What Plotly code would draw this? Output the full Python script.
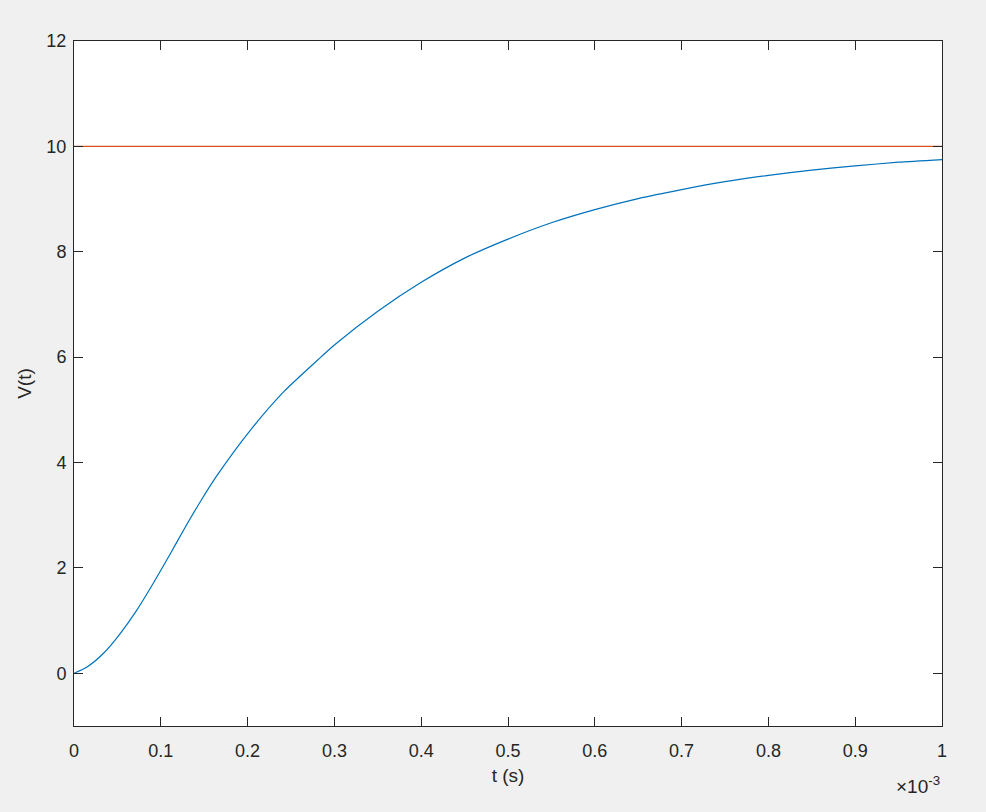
import plotly.graph_objects as go

# time in units of 1e-3 s (axis multiplier shown as x10^-3)
t_ms = [0, 0.015, 0.034, 0.053, 0.072, 0.091, 0.110, 0.127, 0.146, 0.165, 0.204,
        0.242, 0.281, 0.300, 0.350, 0.400, 0.450, 0.500, 0.550, 0.600, 0.650,
        0.700, 0.750, 0.800, 0.850, 0.900, 0.950, 1.000]
v_t = [0, 0.12, 0.38, 0.75, 1.19, 1.70, 2.24, 2.74, 3.27, 3.76, 4.63,
       5.35, 5.95, 6.23, 6.87, 7.42, 7.88, 8.24, 8.55, 8.80, 9.01,
       9.18, 9.33, 9.45, 9.55, 9.63, 9.70, 9.75]
t_ref = [0, 1.0]
v_ref = [10, 10]

x_ticks = [0, 0.1, 0.2, 0.3, 0.4, 0.5, 0.6, 0.7, 0.8, 0.9, 1]
x_ticktext = ["0", "0.1", "0.2", "0.3", "0.4", "0.5", "0.6", "0.7", "0.8", "0.9", "1"]
y_ticks = [0, 2, 4, 6, 8, 10, 12]

ax_col = "#262626"
font = "Liberation Sans, Arial, Helvetica, sans-serif"

fig = go.Figure()
fig.add_trace(go.Scatter(x=t_ms, y=v_t, mode="lines",
                         line=dict(color="#0072BD", width=1.2, shape="spline", smoothing=0.6),
                         showlegend=False))
fig.add_trace(go.Scatter(x=t_ref, y=v_ref, mode="lines", line=dict(color="#D95319", width=1.2),
                         showlegend=False))

axis_common = dict(showgrid=False, zeroline=False, showline=True, linecolor=ax_col, linewidth=1,
                   mirror="ticks", ticks="inside", ticklen=9, tickcolor=ax_col, tickwidth=1,
                   tickfont=dict(size=18, color=ax_col, family=font))

fig.update_xaxes(range=[0, 1], tickvals=x_ticks, ticktext=x_ticktext, ticklabelstandoff=8,
                 title=dict(text="t (s)", font=dict(size=19, color=ax_col, family=font), standoff=9),
                 **axis_common)
fig.update_yaxes(range=[-1, 12], tickvals=y_ticks, ticklabelstandoff=3,
                 title=dict(text="V(t)", font=dict(size=19, color=ax_col, family=font), standoff=9),
                 **axis_common)

fig.add_annotation(xref="paper", yref="paper", x=1.0, y=-0.086, xanchor="right", yanchor="middle",
                   text="×10<sup>-3</sup>", showarrow=False,
                   font=dict(size=19, color=ax_col, family=font))

fig.update_layout(width=986, height=812, margin=dict(l=74, r=44, t=41, b=86),
                  paper_bgcolor="#F0F0F0", plot_bgcolor="#FFFFFF",
                  font=dict(family=font, color=ax_col))

fig.write_html("out.html", config={"displayModeBar": False},
               post_script="document.body.style.margin='0';document.body.style.background='#F0F0F0';")
